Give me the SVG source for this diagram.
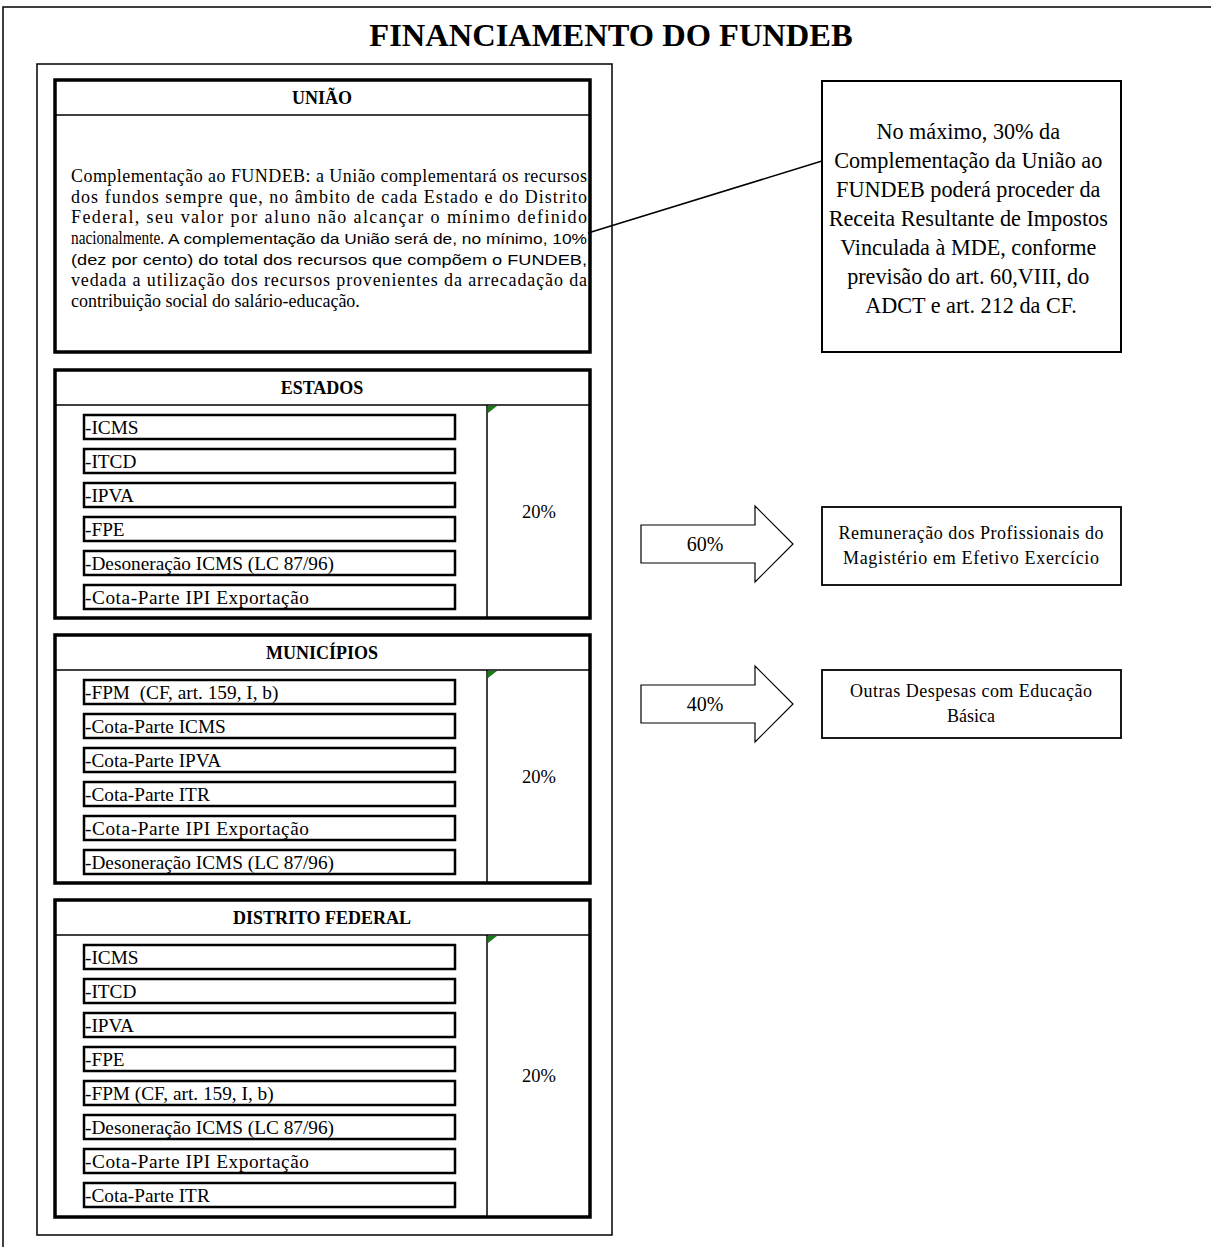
<svg xmlns="http://www.w3.org/2000/svg" width="1211" height="1247" viewBox="0 0 1211 1247">
<style>
.serif{font-family:"Liberation Serif","Times New Roman",serif;fill:#000}
.sans{font-family:"Liberation Sans",Arial,sans-serif;fill:#000}
.frame{fill:none;stroke:#000;stroke-width:1.5}
.thick{fill:#fff;stroke:#000;stroke-width:3.5}
.thin{fill:none;stroke:#000;stroke-width:1.5}
.item{fill:#fff;stroke:#000;stroke-width:2.5}
.itxt{font-size:19.3px}
.hdr{font-size:18px;font-weight:bold}
.pct{font-size:18.5px}
.body{font-size:18px}
.note{font-size:22.2px}
.tri{fill:#1a7a1a}
</style>
<rect x="0" y="0" width="1211" height="1247" fill="#fff"/>
<g id="frame">
<path class="frame" d="M3,1247 V7 H1211"/>
</g>
<text class="serif" x="611" y="46" text-anchor="middle" font-size="32.5" font-weight="bold">FINANCIAMENTO DO FUNDEB</text>
<g id="inner-frame"><rect class="frame" x="37" y="64" width="575" height="1171"/></g>

<g id="uniao">
<rect class="thick" x="55" y="80" width="535" height="272"/>
<line class="thin" x1="55" y1="115" x2="590" y2="115"/>
<text class="serif hdr" x="322" y="104" text-anchor="middle">UNIÃO</text>
<text class="serif body" x="71" y="182" textLength="516" lengthAdjust="spacing">Complementação ao FUNDEB: a União complementará os recursos</text>
<text class="serif body" x="71" y="203" textLength="516" lengthAdjust="spacing">dos fundos sempre que, no âmbito de cada Estado e do Distrito</text>
<text class="serif body" x="71" y="223" textLength="516" lengthAdjust="spacing">Federal, seu valor por aluno não alcançar o mínimo definido</text>
<text class="serif body" x="71" y="244" textLength="93" lengthAdjust="spacingAndGlyphs">nacionalmente.</text>
<text class="sans" x="168" y="244" font-size="15" textLength="419" lengthAdjust="spacingAndGlyphs">A complementação da União será de, no mínimo, 10%</text>
<text class="sans" x="71" y="265" font-size="15" textLength="516" lengthAdjust="spacingAndGlyphs">(dez por cento) do total dos recursos que compõem o FUNDEB,</text>
<text class="serif body" x="71" y="286" textLength="516" lengthAdjust="spacing">vedada a utilização dos recursos provenientes da arrecadação da</text>
<text class="serif body" x="71" y="307">contribuição social do salário-educação.</text>
</g>

<g id="nota">
<rect x="822" y="81" width="299" height="271" fill="#fff" stroke="#000" stroke-width="2"/>
<text class="serif note" text-anchor="middle">
<tspan x="971" y="139">No máximo, 30% da</tspan>
<tspan x="971" y="168">Complementação da União ao</tspan>
<tspan x="971" y="197">FUNDEB poderá proceder da</tspan>
<tspan x="971" y="226">Receita Resultante de Impostos</tspan>
<tspan x="971" y="255">Vinculada à MDE, conforme</tspan>
<tspan x="971" y="284">previsão do art. 60,VIII, do</tspan>
<tspan x="971" y="313">ADCT e art. 212 da CF.</tspan>
</text>
</g>

<g id="connectors">
<line x1="588" y1="233" x2="822" y2="161" stroke="#000" stroke-width="1.5"/>
</g>

<g id="estados">
<rect class="thick" x="55" y="370" width="535" height="248"/>
<line class="thin" x1="55" y1="405" x2="590" y2="405"/>
<line class="thin" x1="487" y1="405" x2="487" y2="618"/>
<polygon class="tri" points="488,406 497,406 488,413"/>
<text class="serif hdr" x="322" y="394" text-anchor="middle">ESTADOS</text>
<rect class="item" x="84" y="415" width="371" height="24"/><text class="serif itxt" x="85" y="434">-ICMS</text>
<rect class="item" x="84" y="449" width="371" height="24"/><text class="serif itxt" x="85" y="468">-ITCD</text>
<rect class="item" x="84" y="483" width="371" height="24"/><text class="serif itxt" x="85" y="502">-IPVA</text>
<rect class="item" x="84" y="517" width="371" height="24"/><text class="serif itxt" x="85" y="536">-FPE</text>
<rect class="item" x="84" y="551" width="371" height="24"/><text class="serif itxt" x="85" y="570">-Desoneração ICMS (LC 87/96)</text>
<rect class="item" x="84" y="585" width="371" height="24"/><text class="serif itxt" x="85" y="604" textLength="224" lengthAdjust="spacing">-Cota-Parte IPI Exportação</text>
<text class="serif pct" x="539" y="518" text-anchor="middle">20%</text>
</g>

<g id="municipios">
<rect class="thick" x="55" y="635" width="535" height="248"/>
<line class="thin" x1="55" y1="670" x2="590" y2="670"/>
<line class="thin" x1="487" y1="670" x2="487" y2="883"/>
<polygon class="tri" points="488,671 497,671 488,678"/>
<text class="serif hdr" x="322" y="659" text-anchor="middle">MUNICÍPIOS</text>
<rect class="item" x="84" y="680" width="371" height="24"/><text class="serif itxt" x="85" y="699" xml:space="preserve">-FPM  (CF, art. 159, I, b)</text>
<rect class="item" x="84" y="714" width="371" height="24"/><text class="serif itxt" x="85" y="733">-Cota-Parte ICMS</text>
<rect class="item" x="84" y="748" width="371" height="24"/><text class="serif itxt" x="85" y="767">-Cota-Parte IPVA</text>
<rect class="item" x="84" y="782" width="371" height="24"/><text class="serif itxt" x="85" y="801">-Cota-Parte ITR</text>
<rect class="item" x="84" y="816" width="371" height="24"/><text class="serif itxt" x="85" y="835" textLength="224" lengthAdjust="spacing">-Cota-Parte IPI Exportação</text>
<rect class="item" x="84" y="850" width="371" height="24"/><text class="serif itxt" x="85" y="869">-Desoneração ICMS (LC 87/96)</text>
<text class="serif pct" x="539" y="783" text-anchor="middle">20%</text>
</g>

<g id="distrito-federal">
<rect class="thick" x="55" y="900" width="535" height="317"/>
<line class="thin" x1="55" y1="935" x2="590" y2="935"/>
<line class="thin" x1="487" y1="935" x2="487" y2="1217"/>
<polygon class="tri" points="488,936 497,936 488,943"/>
<text class="serif hdr" x="322" y="924" text-anchor="middle">DISTRITO FEDERAL</text>
<rect class="item" x="84" y="945" width="371" height="24"/><text class="serif itxt" x="85" y="964">-ICMS</text>
<rect class="item" x="84" y="979" width="371" height="24"/><text class="serif itxt" x="85" y="998">-ITCD</text>
<rect class="item" x="84" y="1013" width="371" height="24"/><text class="serif itxt" x="85" y="1032">-IPVA</text>
<rect class="item" x="84" y="1047" width="371" height="24"/><text class="serif itxt" x="85" y="1066">-FPE</text>
<rect class="item" x="84" y="1081" width="371" height="24"/><text class="serif itxt" x="85" y="1100">-FPM (CF, art. 159, I, b)</text>
<rect class="item" x="84" y="1115" width="371" height="24"/><text class="serif itxt" x="85" y="1134">-Desoneração ICMS (LC 87/96)</text>
<rect class="item" x="84" y="1149" width="371" height="24"/><text class="serif itxt" x="85" y="1168" textLength="224" lengthAdjust="spacing">-Cota-Parte IPI Exportação</text>
<rect class="item" x="84" y="1183" width="371" height="24"/><text class="serif itxt" x="85" y="1202">-Cota-Parte ITR</text>
<text class="serif pct" x="539" y="1082" text-anchor="middle">20%</text>
</g>

<g id="seta-60">
<polygon points="641,525 755,525 755,506 793,544 755,582 755,563 641,563" fill="#fff" stroke="#000" stroke-width="1.2"/>
<text class="serif" x="705" y="551" font-size="20" text-anchor="middle">60%</text>
</g>
<g id="seta-40">
<polygon points="641,685 755,685 755,666 793,704 755,742 755,723 641,723" fill="#fff" stroke="#000" stroke-width="1.2"/>
<text class="serif" x="705" y="711" font-size="20" text-anchor="middle">40%</text>
</g>

<g id="remuneracao">
<rect x="822" y="507" width="299" height="78" fill="#fff" stroke="#000" stroke-width="1.8"/>
<text class="serif" font-size="18" text-anchor="middle"><tspan x="971" y="539" textLength="265" lengthAdjust="spacing">Remuneração dos Profissionais do</tspan><tspan x="971" y="564" textLength="256" lengthAdjust="spacing">Magistério em Efetivo Exercício</tspan></text>
</g>
<g id="outras">
<rect x="822" y="670" width="299" height="68" fill="#fff" stroke="#000" stroke-width="1.8"/>
<text class="serif" font-size="18" text-anchor="middle"><tspan x="971" y="697" textLength="242" lengthAdjust="spacing">Outras Despesas com Educação</tspan><tspan x="971" y="722">Básica</tspan></text>
</g>
</svg>
